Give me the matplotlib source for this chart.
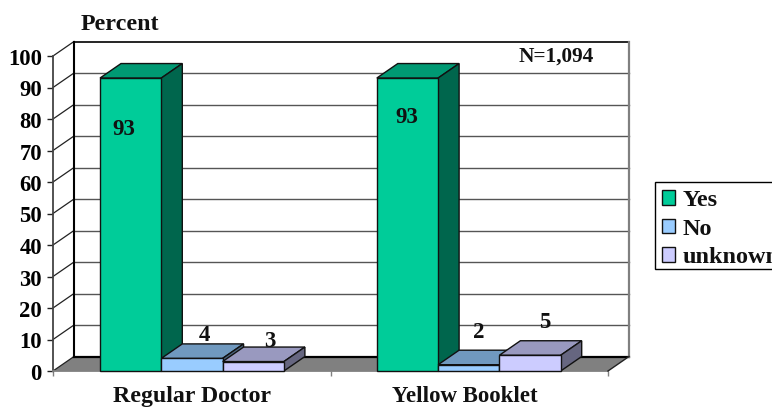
import matplotlib
matplotlib.use('Agg')
import matplotlib.pyplot as plt
from matplotlib.patches import Polygon, Patch, Rectangle
from matplotlib.transforms import ScaledTranslation

plt.rcParams['font.family'] = ['Liberation Serif', 'DejaVu Serif']
plt.rcParams['font.weight'] = 'bold'

categories = ['Regular Doctor', 'Yellow Booklet']
series_names = ['Yes', 'No', 'unknown']
yes_values = [93, 93]
no_values = [4, 2]
unknown_values = [3, 5]
y_ticks = [0, 10, 20, 30, 40, 50, 60, 70, 80, 90, 100]

front_colors = ['#00CC99', '#99CCFF', '#CCCCFF']
top_colors = ['#009973', '#7099BF', '#9999BF']
side_colors = ['#00664D', '#4D6680', '#666680']

# Pixel offsets of the value labels from the front-top centre of each bar
label_shift = {
    (0, 0): (-7, -51), (0, 1): (12, 23), (0, 2): (17, 20),
    (1, 0): (-1, -39), (1, 1): (10, 32), (1, 2): (15, 33),
}

fig = plt.figure(figsize=(7.72, 4.09), dpi=100)
ax = fig.add_axes([53 / 772, 38 / 409, 555 / 772, 315 / 409])
ax.set_xlim(0, 2)
ax.set_ylim(0, 100)
ax.patch.set_visible(False)

# Oblique depth of the 3D box, in data units
depth_x = 21 / 277.5
depth_y = 14.5 / 3.15
bar_w = 61.3 / 277.5
first_bar = 47 / 277.5
group_step = 276.8 / 277.5


def box(x, h, i):
    kw = dict(edgecolor='#111111', linewidth=1, clip_on=False, zorder=5)
    ax.add_patch(Polygon([(x, h), (x + depth_x, h + depth_y),
                          (x + bar_w + depth_x, h + depth_y), (x + bar_w, h)],
                         facecolor=top_colors[i], **kw))
    ax.add_patch(Polygon([(x + bar_w, 0), (x + bar_w + depth_x, depth_y),
                          (x + bar_w + depth_x, h + depth_y), (x + bar_w, h)],
                         facecolor=side_colors[i], **kw))
    ax.add_patch(Polygon([(x, 0), (x + bar_w, 0), (x + bar_w, h), (x, h)],
                         facecolor=front_colors[i], **kw))


# Floor and walls
ax.add_patch(Polygon([(0, 0), (depth_x, depth_y), (2 + depth_x, depth_y), (2, 0)],
                     facecolor='#808080', edgecolor='none', clip_on=False, zorder=1))
for t in y_ticks:
    ax.plot([0, depth_x], [t, t + depth_y], color='#222222', lw=0.9, clip_on=False, zorder=2)
    if 0 < t < 100:
        ax.plot([depth_x, 2 + depth_x], [t + depth_y, t + depth_y], color='#555555',
                lw=1, clip_on=False, zorder=2)
ax.plot([depth_x, depth_x], [depth_y, 100 + depth_y], color='black', lw=1.5, clip_on=False, zorder=3)
ax.plot([depth_x, 2 + depth_x], [100 + depth_y, 100 + depth_y], color='black', lw=1.2, clip_on=False, zorder=3)
ax.plot([depth_x, 2 + depth_x], [depth_y, depth_y], color='black', lw=1.6, clip_on=False, zorder=3)
ax.plot([2 + depth_x, 2 + depth_x], [depth_y, 100 + depth_y], color='#808080', lw=1.6, clip_on=False, zorder=3)
ax.plot([2, 2 + depth_x], [0, depth_y], color='#222222', lw=1, clip_on=False, zorder=3)

# Bars and value labels
all_values = [yes_values, no_values, unknown_values]
for c in range(len(categories)):
    for i, vals in enumerate(all_values):
        x = c * group_step + first_bar + i * bar_w
        box(x, vals[c], i)
        ax.annotate(str(vals[c]), (x + bar_w / 2, vals[c]), xytext=label_shift[(c, i)],
                    textcoords='offset pixels', ha='center', va='center',
                    fontsize=16.5, color='#111111', annotation_clip=False, zorder=8)

# Axes
for s in ['top', 'right']:
    ax.spines[s].set_visible(False)
ax.spines['left'].set_color('#444444')
ax.spines['left'].set_linewidth(1.3)
ax.spines['bottom'].set_color('#808080')
ax.spines['bottom'].set_linewidth(1.3)
ax.set_yticks(y_ticks)
ax.tick_params(axis='y', length=4, width=1, color='#222222', pad=4, labelsize=16.3)
down_1px = ScaledTranslation(0, -1 / 100, fig.dpi_scale_trans)
for lbl in ax.get_yticklabels():
    lbl.set_transform(lbl.get_transform() + down_1px)
ax.set_xticks([0, 1, 2])
ax.set_xticklabels([])
ax.tick_params(axis='x', length=3.5, width=1, color='#808080')
for c, name, size in zip([0.5, 1.485], categories, [17.2, 16.5]):
    ax.text(c, -8, name, ha='center', va='center', fontsize=size, color='#111111')

fig.text(81 / 772, 1 - 24.5 / 409, 'Percent', ha='left', va='center', fontsize=17.3, color='#111111')
fig.text(556 / 772, 1 - 57 / 409, 'N=1,094', ha='center', va='center', fontsize=15.3, color='#111111')

# Legend box runs past the right edge of the figure
fig.add_artist(Rectangle((655 / 772, 1 - 269 / 409), 130 / 772, 87.5 / 409,
                         transform=fig.transFigure, facecolor='white',
                         edgecolor='black', linewidth=1))
handles = [Patch(facecolor=col, edgecolor='#111111', linewidth=1, label=name)
           for col, name in zip(front_colors, series_names)]
leg = fig.legend(handles=handles, loc='upper left', bbox_to_anchor=(654.5 / 772, 1 - 183 / 409),
                 fontsize=17.5, handlelength=0.54, handleheight=0.54, handletextpad=0.3,
                 labelspacing=0.3, borderaxespad=0, borderpad=0.3, frameon=False)
for txt in leg.get_texts():
    txt.set_color('#111111')

fig.savefig('out.png', dpi=100)
